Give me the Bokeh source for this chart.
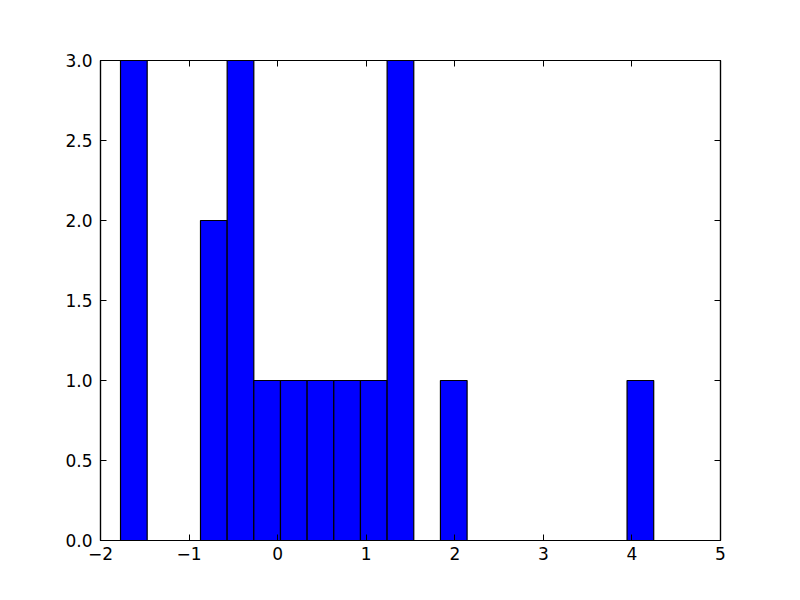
from bokeh.plotting import figure
from bokeh.models import Range1d, LinearAxis, FixedTicker, ColumnDataSource
from bokeh.embed import file_html
from bokeh.resources import INLINE

# Histogram data
bin_edges = [-1.774, -1.473, -1.172, -0.871, -0.570, -0.269, 0.032, 0.333,
             0.634, 0.935, 1.236, 1.537, 1.838, 2.139, 2.440, 2.741, 3.042,
             3.343, 3.644, 3.945, 4.246]
counts = [3, 0, 0, 2, 3, 1, 1, 1, 1, 1, 3, 0, 1, 0, 0, 0, 0, 0, 0, 1]

x_ticks = [-2, -1, 0, 1, 2, 3, 4, 5]
x_tick_labels = ["\u22122", "\u22121", "0", "1", "2", "3", "4", "5"]
y_ticks = [0.0, 0.5, 1.0, 1.5, 2.0, 2.5, 3.0]
y_tick_labels = ["0.0", "0.5", "1.0", "1.5", "2.0", "2.5", "3.0"]

FONT = "DejaVu Sans"
FSIZE = "17px"

src = ColumnDataSource(dict(
    left=bin_edges[:-1],
    right=bin_edges[1:],
    top=counts,
    bottom=[0] * len(counts),
))

p = figure(width=784, height=584, output_backend="svg", toolbar_location=None,
           x_range=Range1d(-2, 5), y_range=Range1d(0, 3),
           x_axis_location=None, y_axis_location=None,
           min_border_left=100, min_border_right=64,
           min_border_top=60, min_border_bottom=44)
p.grid.visible = False
p.background_fill_color = "white"
p.border_fill_color = "white"
p.outline_line_color = "black"
p.outline_line_width = 1.2

p.quad(left="left", right="right", top="top", bottom="bottom", source=src,
       fill_color="#0000ff", line_color="black", line_width=1.2)


def make_axis(ticks, labels, show_labels, standoff):
    ax = LinearAxis(ticker=FixedTicker(ticks=ticks))
    ax.major_label_overrides = {t: l for t, l in zip(ticks, labels)}
    ax.major_tick_in = 6
    ax.major_tick_out = 0
    ax.minor_tick_in = 0
    ax.minor_tick_out = 0
    ax.major_tick_line_color = "black"
    ax.axis_line_color = "black"
    ax.axis_line_width = 1.2
    ax.major_label_text_font = FONT
    ax.major_label_text_font_size = FSIZE if show_labels else "0px"
    ax.major_label_text_color = "black"
    ax.major_label_standoff = standoff
    if not show_labels:
        ax.major_label_overrides = {t: "" for t in ticks}
    return ax


p.add_layout(make_axis(x_ticks, x_tick_labels, True, 6), "below")
p.add_layout(make_axis(y_ticks, y_tick_labels, True, 8), "left")
p.add_layout(make_axis(x_ticks, x_tick_labels, False, 0), "above")
p.add_layout(make_axis(y_ticks, y_tick_labels, False, 0), "right")

open("out.html", "w").write(file_html(p, INLINE))
